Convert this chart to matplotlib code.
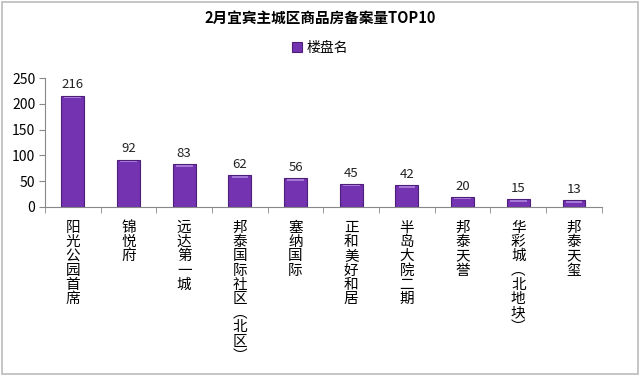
import matplotlib.pyplot as plt
from matplotlib.patches import Rectangle
import numpy as np

plt.rcParams['font.family'] = ['Noto Sans CJK SC', 'DejaVu Sans']

names = ["阳光公园首席", "锦悦府", "远达第一城", "邦泰国际社区︵北区︶", "塞纳国际",
         "正和美好和居", "半岛大院二期", "邦泰天誉", "华彩城︵北地块︶", "邦泰天玺"]
sales = [216, 92, 83, 62, 56, 45, 42, 20, 15, 13]
yticks = [0, 50, 100, 150, 200, 250]

title = "2月宜宾主城区商品房备案量TOP10"
series_name = "楼盘名"

fig = plt.figure(figsize=(6.4, 3.77), dpi=100)
ax = fig.add_axes([0.0703, 0.451, 0.870, 0.342])

x = np.arange(len(names))
bars = ax.bar(x, sales, width=0.41, color="#7433B0", edgecolor="#4E1F7A",
              linewidth=0.8, label=series_name)
# light top highlight to mimic the 3D look
ax.bar(x, [3] * len(sales), bottom=[v - 5 for v in sales], width=0.3,
       color="#A678D6", linewidth=0)

for xi, v in zip(x, sales):
    ax.text(xi, v + 8, str(v), ha="center", va="bottom", fontsize=9.5, color="#222222")

ax.set_xlim(-0.5, len(names) - 0.5)
ax.set_ylim(0, 250)
ax.set_yticks(yticks)
ax.tick_params(axis="y", labelsize=10, length=4, color="#888888", pad=3)
ax.set_xticks(x)
ax.set_xticklabels(["\n".join(n) for n in names], fontsize=10.5, linespacing=1.02, va="top")
ax.tick_params(axis="x", which="major", length=0, pad=10)
ax.set_xticks(np.arange(-0.5, len(names)), minor=True)
ax.tick_params(axis="x", which="minor", length=4, color="#888888")

for side in ["top", "right"]:
    ax.spines[side].set_visible(False)
for side in ["left", "bottom"]:
    ax.spines[side].set_color("#888888")

fig.text(0.5, 0.952, title, ha="center", va="center", fontsize=10.5, fontweight="bold")
fig.legend(handles=[bars], labels=[series_name], loc="center", bbox_to_anchor=(0.5, 0.873),
           frameon=False, fontsize=10, handlelength=0.7, handleheight=0.7, handletextpad=0.3)

fig.patches.append(Rectangle((0.003, 0.008), 0.994, 0.988, transform=fig.transFigure,
                             fill=False, edgecolor="#bbbbbb", linewidth=1.2))

fig.savefig("out.png", dpi=100)
